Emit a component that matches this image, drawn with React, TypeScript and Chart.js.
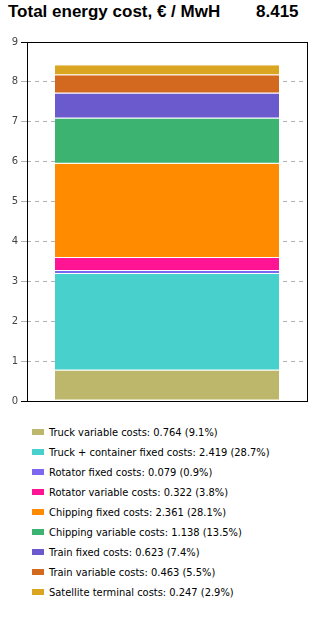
import React, { useEffect, useRef } from "react";
import { Chart, registerables } from "chart.js";

Chart.register(...registerables);

const titleText = "Total energy cost, € / MwH";
const totalText = "8.415";
const categories = ["Total"];
const seriesNames = [
  "Truck variable costs",
  "Truck + container fixed costs",
  "Rotator fixed costs",
  "Rotator variable costs",
  "Chipping fixed costs",
  "Chipping variable costs",
  "Train fixed costs",
  "Train variable costs",
  "Satellite terminal costs",
];
const seriesValues = [0.764, 2.419, 0.079, 0.322, 2.361, 1.138, 0.623, 0.463, 0.247];
const seriesPercents = ["9.1%", "28.7%", "0.9%", "3.8%", "28.1%", "13.5%", "7.4%", "5.5%", "2.9%"];
const seriesColors = [
  "#BDB76B",
  "#48D1CC",
  "#7B68EE",
  "#FF1493",
  "#FF8C00",
  "#3CB371",
  "#6A5ACD",
  "#D2691E",
  "#DAA520",
];
const yTicks = [0, 1, 2, 3, 4, 5, 6, 7, 8, 9];

const framePlugin = {
  id: "frame",
  afterDraw(chart: any) {
    const { ctx, chartArea } = chart;
    ctx.save();
    ctx.strokeStyle = "#000";
    ctx.lineWidth = 1;
    ctx.strokeRect(
      Math.round(chartArea.left) + 0.5,
      Math.round(chartArea.top) + 0.5,
      Math.round(chartArea.right - chartArea.left),
      Math.round(chartArea.bottom - chartArea.top)
    );
    ctx.restore();
  },
};

export default function App() {
  const ref = useRef<HTMLCanvasElement>(null);

  useEffect(() => {
    document.body.style.margin = "0";
    const chart = new Chart(ref.current!, {
      type: "bar",
      data: {
        labels: categories,
        datasets: seriesNames.map((name, i) => ({
          label: name,
          data: [seriesValues[i]],
          backgroundColor: seriesColors[i],
          borderColor: "rgba(255,255,255,0.25)",
          borderWidth: { top: 0, bottom: 1, left: 0, right: 0 },
          borderSkipped: false,
          categoryPercentage: 0.8,
          barPercentage: 1,
        })),
      },
      options: {
        responsive: false,
        animation: false,
        layout: { padding: { left: 0, top: 42, right: 15, bottom: 8 } },
        plugins: {
          legend: { display: false },
          tooltip: { enabled: false },
          title: { display: false },
        },
        scales: {
          x: { stacked: true, display: false },
          y: {
            stacked: true,
            min: 0,
            max: 9,
            z: 1,
            afterFit(scale: any) {
              scale.width = 27;
            },
            afterBuildTicks(scale: any) {
              scale.ticks = yTicks.map((v) => ({ value: v }));
            },
            border: { display: false, dash: [4, 4] },
            grid: {
              color: (c: any) => (c.tick && c.tick.value === 0 ? "rgba(0,0,0,0)" : "rgba(0,0,0,0.3)"),
              tickColor: (c: any) => (c.tick && (c.tick.value === 0 || c.tick.value === 9) ? "#000" : "rgba(0,0,0,0.3)"),
              tickLength: 6,
              drawTicks: true,
            },
            ticks: {
              color: "#444",
              padding: 3,
              font: { family: "DejaVu Sans", size: 10 },
            },
          },
        },
      },
      plugins: [framePlugin],
    } as any);
    return () => chart.destroy();
  }, []);

  return (
    <div style={{ position: "relative", width: 322, height: 626, background: "#fff", fontFamily: "Liberation Sans" }}>
      <div
        style={{
          position: "absolute",
          left: 8,
          top: 2,
          fontWeight: "bold",
          fontSize: 17,
          fontFamily: "Liberation Sans, Arial, sans-serif",
          whiteSpace: "nowrap",
        }}
      >
        {titleText}
      </div>
      <div
        style={{
          position: "absolute",
          left: 256,
          top: 2,
          fontWeight: "bold",
          fontSize: 17,
          fontFamily: "Liberation Sans, Arial, sans-serif",
        }}
      >
        {totalText}
      </div>
      <canvas ref={ref} width={322} height={410} style={{ position: "absolute", left: 0, top: 0 }} />
      <div style={{ position: "absolute", left: 32, top: 422 }}>
        {seriesNames.map((name, i) => (
          <div key={name} style={{ display: "flex", alignItems: "center", height: 20 }}>
            <span style={{ display: "inline-block", width: 12, height: 6, background: seriesColors[i], marginRight: 5 }} />
            <span style={{ fontFamily: "DejaVu Sans Condensed", fontStretch: "condensed", fontSize: 11, color: "#000", whiteSpace: "nowrap" }}>
              {name}: {seriesValues[i].toFixed(3)} ({seriesPercents[i]})
            </span>
          </div>
        ))}
      </div>
    </div>
  );
}
